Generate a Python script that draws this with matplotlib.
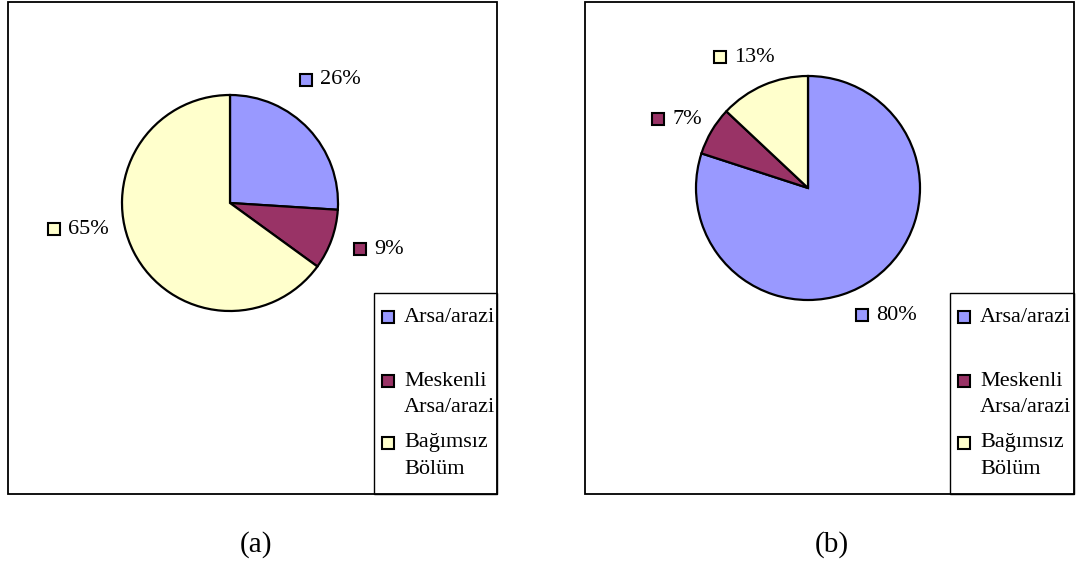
import matplotlib.pyplot as plt
from matplotlib.patches import Rectangle

plt.rcParams['font.family'] = ['Liberation Serif', 'DejaVu Serif']

# shares of each property type, panel (a) and panel (b)
categories = ['Arsa/arazi', 'Meskenli\nArsa/arazi', 'Bağımsız\nBölüm']
shares_a = [26, 9, 65]
shares_b = [80, 7, 13]
colors = ['#9999FF', '#993366', '#FFFFCC']
captions = ['(a)', '(b)']

W, H = 1076, 565
fig = plt.figure(figsize=(W / 100, H / 100), dpi=100)
ax = fig.add_axes([0, 0, 1, 1])


def Y(y):
    # image rows count downward
    return H - y


def square(x, y, color, size=12):
    ax.add_patch(Rectangle((x, Y(y) - size / 2), size, size, facecolor=color,
                           edgecolor='black', linewidth=1.5, zorder=5))


panels = [
    dict(left=8, right=497, legend_left=374, center=(230, 203), radius=108,
         shares=shares_a, labels=[(300, 80), (354, 249), (48, 229)], cap=(256, 545)),
    dict(left=585, right=1074, legend_left=950, center=(808, 188), radius=112,
         shares=shares_b, labels=[(856, 315), (652, 119), (714, 57)], cap=(832, 545)),
]

FS = 16
LINE = 27  # legend line height in px

for p, cap in zip(panels, captions):
    top, bottom = 2, 494
    ax.add_patch(Rectangle((p['left'], Y(bottom)), p['right'] - p['left'], bottom - top,
                           fill=False, edgecolor='black', linewidth=1.3))

    cx, cy = p['center']
    ax.pie(p['shares'], colors=colors, startangle=90, counterclock=False,
           center=(cx, Y(cy)), radius=p['radius'], frame=True,
           wedgeprops=dict(edgecolor='black', linewidth=1.6))

    # percentage labels with colour keys
    for (lx, ly), v, c in zip(p['labels'], p['shares'], colors):
        square(lx, ly, c)
        ax.text(lx + 20, Y(ly), f'{v}%', fontsize=FS, va='center', ha='left')

    # legend box
    lgx = p['legend_left']
    ax.add_patch(Rectangle((lgx, Y(bottom)), p['right'] - lgx, bottom - 293,
                           fill=False, edgecolor='black', linewidth=1.0))
    for row, name, c in zip([317, 381, 443], categories, colors):
        square(lgx + 8, row, c)
        for i, line in enumerate(name.split('\n')):
            ax.text(lgx + 30, Y(row + i * LINE), line, fontsize=FS,
                    va='center', ha='left')

    ax.text(p['cap'][0], Y(p['cap'][1]), cap, fontsize=21, ha='center', va='center')

ax.set_xlim(0, W)
ax.set_ylim(0, H)
ax.set_aspect('auto')
ax.axis('off')

fig.savefig('out.png', dpi=100)
